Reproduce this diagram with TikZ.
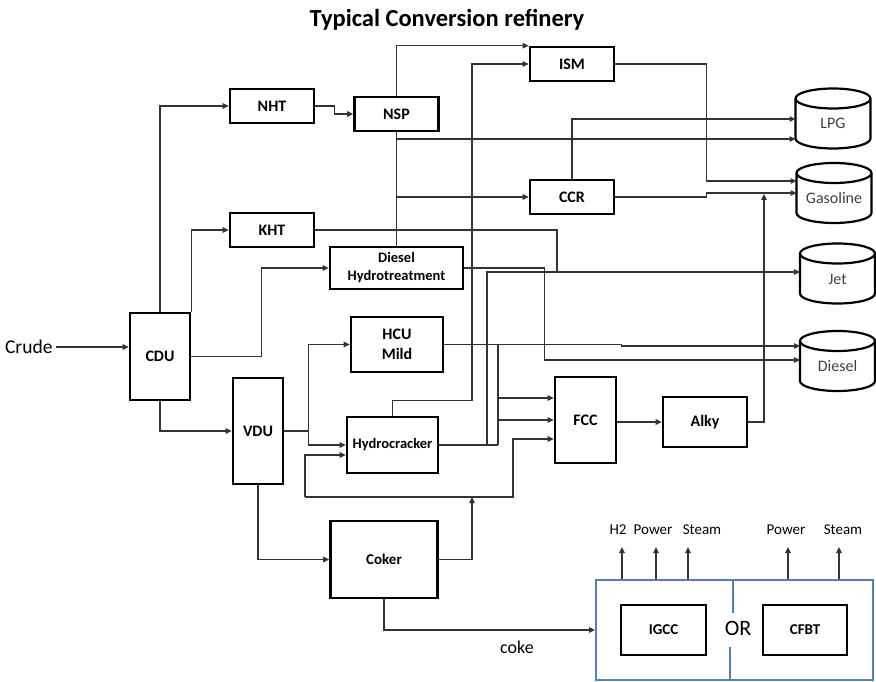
\documentclass[tikz,border=0pt]{standalone}
\usepackage{fontspec}
\setmainfont{Carlito}
\definecolor{FlowGray}{HTML}{333333}
\definecolor{LabelGray}{HTML}{404040}
\definecolor{PlantBlue}{HTML}{4F81BD}
\usetikzlibrary{arrows.meta}
\tikzset{
  unit/.style={draw=black, line width=2.6pt, fill=white, align=center, inner sep=1pt, font=\bfseries\fontsize{16}{18}\selectfont},
  product/.style={minimum width=75pt, minimum height=60pt, inner sep=0pt, outer sep=0pt, text height=21pt, text depth=0pt, text=LabelGray, font=\fontsize{16}{18}\selectfont},
  tankwall/.style={draw=black, line width=2.2pt, line join=round},
  flow/.style={-{Triangle[length=6pt,width=5.5pt]}, line width=1.2pt, draw=FlowGray},
  pipe/.style={line width=1.2pt, draw=FlowGray},
  dims/.style 2 args={minimum width=#1pt, minimum height=#2pt}
}

\begin{document}
\begin{tikzpicture}[x=1pt, y=-1pt,
  outlabel/.style={font=\fontsize{15}{17}\selectfont},
  plantline/.style={draw=PlantBlue, line width=2pt}
]
\useasboundingbox (0,0) rectangle (876,682);

\node[font=\bfseries\fontsize{24.5}{28}\selectfont] (title) at (447,20) {Typical Conversion refinery};

% process units
\node[font=\fontsize{19.5}{22}\selectfont, anchor=east] (crude) at (56,347) {Crude};
\node[unit, dims={60}{87}] (cdu) at (160,356.5) {CDU};
\node[unit, dims={84}{34}] (nht) at (272,106) {NHT};
\node[unit, dims={84}{34}] (kht) at (272,230) {KHT};
\node[unit, dims={84}{34}] (nsp) at (396.5,114) {NSP};
\node[unit, dims={133}{42}, font=\bfseries\fontsize{14.5}{18}\selectfont] (dht) at (396.5,268) {Diesel\\Hydrotreatment};
\node[unit, dims={84}{34}] (ism) at (572,64) {ISM};
\node[unit, dims={84}{34}] (ccr) at (572,197) {CCR};
\node[unit, dims={92}{55}, font=\bfseries\fontsize{16}{20}\selectfont] (hcu) at (397,344.5) {HCU\\Mild};
\node[unit, dims={50}{106}] (vdu) at (258,431) {VDU};
\node[unit, dims={91}{56}, font=\bfseries\fontsize{14.5}{18}\selectfont] (hcr) at (392.5,445) {Hydrocracker};
\node[unit, dims={61}{86}] (fcc) at (585.5,420) {FCC};
\node[unit, dims={84}{50}] (alky) at (705,422) {Alky};
\node[unit, dims={107}{77}, font=\bfseries\fontsize{15}{18}\selectfont] (coker) at (384,559.5) {Coker};

% product tanks
\node[product] (lpg) at (833,118.5) {LPG};
\node[product] (gasoline) at (834,193) {Gasoline};
\node[product] (jet) at (837.5,273.5) {Jet};
\node[product] (diesel) at (837.5,361) {Diesel};
\draw[tankwall] ([yshift=-10pt]lpg.north west) -- ([yshift=10pt]lpg.south west)
  arc[start angle=180, end angle=0, x radius=37.5, y radius=10] -- ([yshift=-10pt]lpg.north east)
  arc[start angle=0, end angle=-180, x radius=37.5, y radius=10]
  arc[start angle=180, end angle=0, x radius=37.5, y radius=10];
\draw[tankwall] ([yshift=-10pt]gasoline.north west) -- ([yshift=10pt]gasoline.south west)
  arc[start angle=180, end angle=0, x radius=37.5, y radius=10] -- ([yshift=-10pt]gasoline.north east)
  arc[start angle=0, end angle=-180, x radius=37.5, y radius=10]
  arc[start angle=180, end angle=0, x radius=37.5, y radius=10];
\draw[tankwall] ([yshift=-10pt]jet.north west) -- ([yshift=10pt]jet.south west)
  arc[start angle=180, end angle=0, x radius=37.5, y radius=10] -- ([yshift=-10pt]jet.north east)
  arc[start angle=0, end angle=-180, x radius=37.5, y radius=10]
  arc[start angle=180, end angle=0, x radius=37.5, y radius=10];
\draw[tankwall] ([yshift=-10pt]diesel.north west) -- ([yshift=10pt]diesel.south west)
  arc[start angle=180, end angle=0, x radius=37.5, y radius=10] -- ([yshift=-10pt]diesel.north east)
  arc[start angle=0, end angle=-180, x radius=37.5, y radius=10]
  arc[start angle=180, end angle=0, x radius=37.5, y radius=10];

% coke outlet
\node[plantline, dims={277}{100}] (plant) at (734.5,630) {};
\node[unit, dims={85}{50}, font=\bfseries\fontsize{15}{18}\selectfont] (igcc) at (663.5,630) {IGCC};
\node[unit, dims={84}{50}, font=\bfseries\fontsize{15}{18}\selectfont] (cfbt) at (805,630) {CFBT};
\node[font=\fontsize{22}{24}\selectfont] (ortext) at (738,628) {OR};
\node[font=\fontsize{18}{20}\selectfont] (coke) at (517,647) {coke};
\node[outlabel] (h2) at (618,530) {H2};
\node[outlabel] (power1) at (653,530) {Power};
\node[outlabel] (steam1) at (702,530) {Steam};
\node[outlabel] (power2) at (786,530) {Power};
\node[outlabel] (steam2) at (843,530) {Steam};

\coordinate (jetbus) at (487,272);
\coordinate (recycle) at (305,497);

% crude unit
\draw[flow] (crude.east) -- (crude.east -| cdu.west);
\draw[flow] (cdu.north) |- (nht.west);
\draw[flow] (cdu.north east) |- (kht.west);
\draw[flow] (cdu.east) -- ++(70,0) |- (dht.west);
\draw[flow] (cdu.south) |- (vdu.west);

% naphtha
\draw[flow] (nht.east) -- ++(19,0) |- (nsp.west);
\draw[flow] (nsp.north) |- (ism.north west);
\draw[pipe] (nsp.south) -- (dht.north);
\draw[flow] (nsp.south |- 0,139) -- (lpg.west |- 0,139);
\draw[flow] (nsp.south |- ccr.west) -- (ccr.west);
\draw[flow] (ism.east) -- ++(91,0) |- (gasoline.west |- 0,181);
\draw[flow] (ccr.north) |- (lpg.west |- 0,119);
\draw[flow] (ccr.east) -- ++(91,0) -- ++(0,-4) -- (gasoline.west |- 0,193);

% middle distillates
\draw[pipe] (kht.east) -| (jetbus -| 557,0);
\draw[flow] (dht.east) -- ++(80,0) |- (diesel.west |- 0,360);
\draw[flow] (hcu.east) -- ++(177,0) -- ++(0,1.5) -- (diesel.west |- 0,346);
\draw[pipe] (hcr.east) -- (hcr.east -| 498,0);
\draw[flow] (hcr.east -| jetbus) -- (jetbus) -- (jetbus -| jet.west);
\draw[flow] (hcr.north) -- ++(0,-15) -| (ism.west -| 472,0) -- (ism.west);

% vacuum unit
\draw[flow] (vdu.east) -- ++(24,0) |- (hcu.west);
\draw[flow] (vdu.east) ++(24,0) |- (hcr.west);
\draw[flow] (vdu.south) |- (coker.west);

% fcc feeds
\draw[pipe] (hcu.east -| 498,0) -- (hcr.east -| 498,0);
\draw[flow] (498,398) -- (fcc.west |- 0,398);
\draw[flow] (498,420) -- (fcc.west |- 0,420);
\draw[flow] (recycle) -- (513,497) |- (fcc.west |- 0,439);
\draw[flow] (recycle) |- (hcr.west |- 0,455);
\draw[flow] (coker.east) -| (recycle -| 472,0);
\draw[flow] (fcc.east |- alky.west) -- (alky.west);
\draw[flow] (alky.east) -| (764,194);

% coke to power block
\draw[flow] (coker.south) |- (plant.west);
\draw[plantline] (plant.north -| 733,0) -- (733,613);
\draw[plantline] (730,647) -- (plant.south -| 730,0);
\draw[flow] (plant.north -| 622,0) -- ++(0,-32);
\draw[flow] (plant.north -| 656,0) -- ++(0,-32);
\draw[flow] (plant.north -| 688,0) -- ++(0,-32);
\draw[flow] (plant.north -| 788,0) -- ++(0,-32);
\draw[flow] (plant.north -| 839,0) -- ++(0,-32);
\end{tikzpicture}
\end{document}
